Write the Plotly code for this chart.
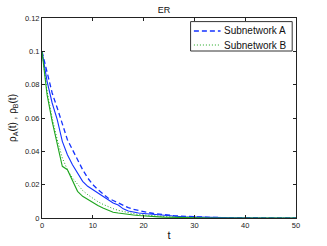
import plotly.graph_objects as go

t = list(range(0, 51))

# Subnetwork A, solid (simulation)
a_solid = [0.100, 0.082, 0.069, 0.059, 0.046, 0.038, 0.032, 0.027, 0.022, 0.019,
           0.017, 0.0145, 0.0125, 0.0105, 0.0090, 0.0078, 0.0055, 0.0042, 0.0035, 0.0030,
           0.0027, 0.0024, 0.0020, 0.0017, 0.0014, 0.0012, 0.0010, 0.0009, 0.0007, 0.0006,
           0.0005, 0.0004, 0.0003, 0.0003, 0.0002, 0.0002, 0.0001, 0.0001, 0.0001, 0.0001,
           0.0, 0.0, 0.0, 0.0, 0.0, 0.0, 0.0, 0.0, 0.0, 0.0, 0.0]
# Subnetwork A, dashed
a_dashed = [0.100, 0.087, 0.075, 0.066, 0.056, 0.047, 0.041, 0.035, 0.029, 0.024,
            0.020, 0.017, 0.0145, 0.012, 0.0105, 0.0090, 0.0075, 0.0062, 0.0052, 0.0044,
            0.0037, 0.0032, 0.0027, 0.0023, 0.0019, 0.0016, 0.0014, 0.0012, 0.0010, 0.0008,
            0.0007, 0.0006, 0.0005, 0.0004, 0.0003, 0.0003, 0.0002, 0.0002, 0.0001, 0.0001,
            0.0001, 0.0001, 0.0, 0.0, 0.0, 0.0, 0.0, 0.0, 0.0, 0.0, 0.0]
# Subnetwork B, solid (simulation)
b_solid = [0.100, 0.074, 0.058, 0.044, 0.031, 0.029, 0.022, 0.016, 0.013, 0.011,
           0.009, 0.0075, 0.0060, 0.0045, 0.0035, 0.0030, 0.0025, 0.0020, 0.0018, 0.0015,
           0.0012, 0.0010, 0.0008, 0.0007, 0.0005, 0.0004, 0.0003, 0.0002, 0.0002, 0.0001,
           0.0, 0.0, 0.0, 0.0, 0.0, 0.0, 0.0, 0.0, 0.0, 0.0,
           0.0, 0.0, 0.0, 0.0, 0.0, 0.0, 0.0, 0.0, 0.0, 0.0, 0.0]
# Subnetwork B, dotted
b_dotted = [0.100, 0.076, 0.060, 0.047, 0.036, 0.029, 0.024, 0.020, 0.0165, 0.014,
            0.0118, 0.0098, 0.0082, 0.0068, 0.0056, 0.0046, 0.0038, 0.0031, 0.0026, 0.0021,
            0.0018, 0.0015, 0.0012, 0.0010, 0.0008, 0.0007, 0.0006, 0.0005, 0.0004, 0.0003,
            0.0003, 0.0002, 0.0002, 0.0001, 0.0001, 0.0001, 0.0, 0.0, 0.0, 0.0,
            0.0, 0.0, 0.0, 0.0, 0.0, 0.0, 0.0, 0.0, 0.0, 0.0, 0.0]

legend_labels = ["Subnetwork A", "Subnetwork B"]
x_ticks = [0, 10, 20, 30, 40, 50]
y_ticks = [0, 0.02, 0.04, 0.06, 0.08, 0.1, 0.12]
y_tick_labels = ["0", "0.02", "0.04", "0.06", "0.08", "0.1", "0.12"]

BLUE = "rgb(20,50,255)"
GREEN = "rgb(30,165,30)"
DASH_A = "5px,3px"
DOT_B = "1px,2px"

fig = go.Figure()
fig.add_trace(go.Scatter(x=t, y=a_dashed, mode="lines", name=legend_labels[0], showlegend=False,
                         line=dict(color=BLUE, width=1.3, dash=DASH_A)))
fig.add_trace(go.Scatter(x=t, y=b_dotted, mode="lines", name=legend_labels[1], showlegend=False,
                         line=dict(color=GREEN, width=1, dash=DOT_B)))
fig.add_trace(go.Scatter(x=t, y=a_solid, mode="lines", showlegend=False,
                         line=dict(color=BLUE, width=1.1)))
fig.add_trace(go.Scatter(x=t, y=b_solid, mode="lines", showlegend=False,
                         line=dict(color=GREEN, width=1.1)))

axis_common = dict(showline=True, linecolor="#222", linewidth=1, mirror="ticks",
                   ticks="inside", ticklen=3, tickcolor="#222", showgrid=False,
                   zeroline=False, automargin=False,
                   tickfont=dict(size=7.5, color="#222"))

# Compact MATLAB-style legend box (paper coordinates)
lg_x0, lg_x1, lg_y0, lg_y1 = 0.585, 0.985, 0.835, 0.982
row_y = [0.935, 0.865]
samples = [(BLUE, DASH_A, 1.3), (GREEN, DOT_B, 1.0)]
shapes = [dict(type="rect", xref="paper", yref="paper", x0=lg_x0, x1=lg_x1, y0=lg_y0, y1=lg_y1,
               line=dict(color="#333", width=1), fillcolor="white", layer="above")]
annotations = []
for (col, dash, w), ry, lab in zip(samples, row_y, legend_labels):
    shapes.append(dict(type="line", xref="paper", yref="paper", x0=0.598, x1=0.703, y0=ry, y1=ry,
                       line=dict(color=col, width=w, dash=dash), layer="above"))
    annotations.append(dict(text=lab, xref="paper", yref="paper", x=0.708, y=ry,
                            xanchor="left", yanchor="middle", showarrow=False,
                            font=dict(size=10, color="#111")))

fig.update_layout(
    width=327, height=246,
    margin=dict(l=42, r=31, t=18, b=28),
    paper_bgcolor="white", plot_bgcolor="white",
    font=dict(family="Liberation Sans, Arial, sans-serif", color="#111"),
    title=dict(text="ER", x=0.48, xref="paper", xanchor="center", y=0.959, yanchor="middle",
               font=dict(size=9)),
    xaxis=dict(range=[0, 50], tickvals=x_ticks,
               title=dict(text="t", font=dict(size=11), standoff=2), **axis_common),
    yaxis=dict(range=[0, 0.12], tickvals=y_ticks, ticktext=y_tick_labels,
               title=dict(text="ρ<sub>A</sub>(t) , ρ<sub>B</sub>(t)", font=dict(size=10),
                          standoff=6), **axis_common),
    shapes=shapes,
    annotations=annotations,
    showlegend=False,
)

fig.write_html("out.html", config={"displayModeBar": False},
               post_script="document.body.style.margin='0';document.body.style.padding='0';")
